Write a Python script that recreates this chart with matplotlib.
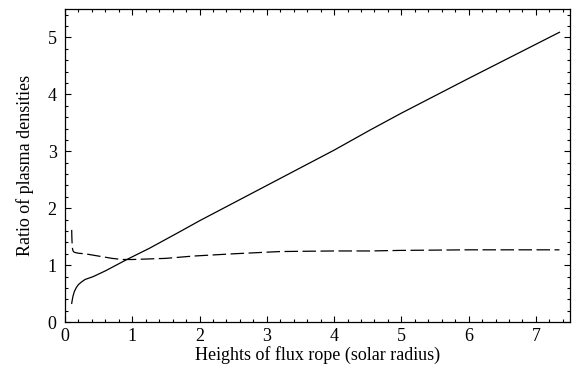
import matplotlib
matplotlib.use('Agg')
import matplotlib.pyplot as plt
from matplotlib.ticker import MultipleLocator

plt.rcParams['font.family'] = ['Liberation Serif', 'DejaVu Serif']

# solid curve
h_solid = [0.10, 0.11, 0.12, 0.14, 0.17, 0.20, 0.25, 0.30, 0.42, 0.60, 0.92, 1.26,
           1.71, 2.00, 3.00, 4.00, 4.53, 5.00, 6.00, 7.00, 7.35]
ratio_solid = [0.33, 0.40, 0.46, 0.54, 0.61, 0.66, 0.71, 0.75, 0.80, 0.90, 1.10, 1.30,
               1.59, 1.78, 2.40, 3.02, 3.37, 3.67, 4.28, 4.88, 5.09]

# dashed curve
h_dash = [0.100, 0.102, 0.106, 0.112, 0.120, 0.135, 0.16, 0.20, 0.30, 0.50, 0.70,
          0.85, 1.00, 1.50, 1.90, 2.50, 3.20, 4.00, 4.53, 5.00, 6.00, 7.00, 7.35]
ratio_dash = [1.62, 1.50, 1.38, 1.29, 1.25, 1.23, 1.22, 1.21, 1.20, 1.16, 1.12,
              1.10, 1.10, 1.12, 1.16, 1.20, 1.24, 1.25, 1.25, 1.26, 1.27, 1.27, 1.27]

fig = plt.figure(figsize=(5.76, 3.72), dpi=100)
ax = fig.add_axes([0.1128, 0.134, 0.8760, 0.842])

ax.plot(h_solid, ratio_solid, color='black', lw=0.9)
ax.plot(h_dash, ratio_dash, color='black', lw=0.9, dashes=(10.8, 3.6))

ax.set_xlim(0, 7.5)
ax.set_ylim(0, 5.5)
ax.xaxis.set_major_locator(MultipleLocator(1))
ax.xaxis.set_minor_locator(MultipleLocator(0.2))
ax.yaxis.set_major_locator(MultipleLocator(1))
ax.yaxis.set_minor_locator(MultipleLocator(0.2))
ax.tick_params(which='both', direction='in', top=True, right=True, width=0.8)
ax.tick_params(which='major', length=4, labelsize=13)
ax.tick_params(axis='x', which='major', pad=4)
ax.tick_params(axis='y', which='major', pad=6)
ax.tick_params(which='minor', length=2.5)
for s in ax.spines.values():
    s.set_linewidth(0.9)

ax.set_xlabel('Heights of flux rope (solar radius)', fontsize=13, labelpad=1)
ax.set_ylabel('Ratio of plasma densities', fontsize=13, labelpad=10)

fig.savefig('out.png', dpi=100)
